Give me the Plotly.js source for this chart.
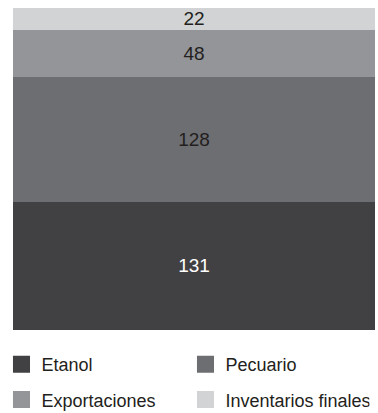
<!DOCTYPE html>
<html>
<head>
<meta charset="utf-8">
<script src="https://cdn.plot.ly/plotly-3.0.1.min.js"></script>
<style>
html,body{margin:0;padding:0;background:#fff;}
#chart{width:378px;height:413px;}
</style>
</head>
<body>
<div id="chart"></div>
<script>
// Data
const category = [''];
const seriesNames = ['Etanol', 'Pecuario', 'Exportaciones', 'Inventarios finales'];
const etanol = [131];
const pecuario = [128];
const exportaciones = [48];
const inventariosFinales = [22];

const seriesValues = [etanol, pecuario, exportaciones, inventariosFinales];
const colors = ['#414042', '#6d6e71', '#939598', '#d1d3d4'];
const textColors = ['#ffffff', '#231f20', '#231f20', '#231f20'];
const legendIds = ['legend', 'legend', 'legend2', 'legend2'];
const FONT = '"Liberation Sans", Arial, sans-serif';

const total = seriesValues.reduce((s, v) => s + v[0], 0);

const traces = seriesNames.map((name, i) => ({
  type: 'bar',
  name: name,
  legend: legendIds[i],
  x: category,
  y: seriesValues[i],
  text: seriesValues[i].map(String),
  textposition: 'inside',
  insidetextanchor: 'middle',
  constraintext: 'none',
  textangle: 0,
  textfont: {family: FONT, size: 19, color: textColors[i]},
  marker: {color: colors[i], line: {width: 0}},
  hoverinfo: 'none'
}));

const legendBase = {
  orientation: 'h',
  traceorder: 'normal',
  x: -0.0318,
  xanchor: 'left',
  yanchor: 'middle',
  entrywidth: 139,
  font: {family: FONT, size: 18, color: '#231f20'},
  bgcolor: 'rgba(0,0,0,0)',
  borderwidth: 0
};

const layout = {
  width: 378,
  height: 413,
  margin: {l: 13, r: 3, t: 8, b: 83, autoexpand: false},
  paper_bgcolor: '#ffffff',
  plot_bgcolor: '#ffffff',
  barmode: 'stack',
  bargap: 0,
  showlegend: true,
  font: {family: FONT, size: 18, color: '#231f20'},
  xaxis: {visible: false, range: [-0.5, 0.5], fixedrange: true},
  yaxis: {visible: false, range: [0, total], fixedrange: true},
  legend: Object.assign({}, legendBase, {y: -0.107}),
  legend2: Object.assign({}, legendBase, {y: -0.217})
};

Plotly.newPlot('chart', traces, layout, {displayModeBar: false, staticPlot: true}).then(function (gd) {
  gd.querySelectorAll('.legendpoints path').forEach(function (p) {
    const t = p.getAttribute('transform') || '';
    p.setAttribute('transform', t + ' scale(1.42)');
  });
});
</script>
</body>
</html>
